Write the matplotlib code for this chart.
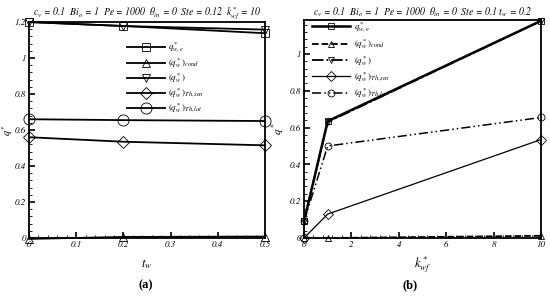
import numpy as np
import matplotlib
matplotlib.use('Agg')
import matplotlib.pyplot as plt
from matplotlib.ticker import MultipleLocator

plt.rcParams['font.family'] = ['STIXGeneral', 'DejaVu Serif']
plt.rcParams['mathtext.fontset'] = 'stix'

# panel (a): q* vs t_w
t_w = [0.0, 0.2, 0.5]
a_qwe = [1.20, 1.178, 1.138]
a_cond = [-0.005, 0.006, 0.008]
a_qw = [1.20, 1.178, 1.158]
a_sen = [0.56, 0.535, 0.515]
a_lat = [0.66, 0.655, 0.65]

# panel (b): q* vs k*_wf
k_wf = [0.0, 1.0, 10.0]
b_qwe = [0.09, 0.635, 1.18]
b_cond = [0.0, 0.0, 0.012]
b_qw = [0.09, 0.63, 1.18]
b_sen = [0.0, 0.13, 0.535]
b_lat = [0.09, 0.50, 0.655]

labels = [r'$q^*_{w,e}$', r'$(q^*_w)_{cond}$', r'$(q^*_w)$',
          r'$(q^*_w)_{Th,sen}$', r'$(q^*_w)_{Th,lat}$']
markers = ['s', '^', 'v', 'D', 'o']

fig = plt.figure(figsize=(5.5, 2.98), dpi=100)
ax1 = fig.add_axes([0.0527, 0.2013, 0.4291, 0.7247])
ax2 = fig.add_axes([0.5527, 0.2013, 0.4309, 0.7317])

def style_axis(ax):
    for s in ax.spines.values():
        s.set_linewidth(1.3)
    ax.tick_params(which='both', direction='in', top=False, right=False, labelsize=6.5, pad=2)
    ax.tick_params(which='major', length=4, width=1.2)
    ax.tick_params(which='minor', length=2, width=0.6)
    for lab in ax.get_xticklabels() + ax.get_yticklabels():
        lab.set_fontstyle('italic')

ms = [6, 6, 6, 6, 8]
ys = [a_qwe, a_cond, a_qw, a_sen, a_lat]
for y, m, lab, s in zip(ys, markers, labels, ms):
    ax1.plot(t_w, y, color='black', lw=1.3, marker=m, ms=s, mfc='none', mew=0.6,
             label=lab, clip_on=False)
ax1.set_xlim(0, 0.5)
ax1.set_ylim(0, 1.2)
ax1.set_xticks([0, 0.1, 0.2, 0.3, 0.4, 0.5])
ax1.set_xticklabels(['0', '0.1', '0.2', '0.3', '0.4', '0.5'])
ax1.xaxis.set_minor_locator(MultipleLocator(0.02))
ax1.set_yticks([0, 0.2, 0.4, 0.6, 0.8, 1.0, 1.2])
ax1.set_yticklabels(['0', '0.2', '0.4', '0.6', '0.8', '1', '1.2'])
ax1.yaxis.set_minor_locator(MultipleLocator(0.04))
style_axis(ax1)
ax1.set_xlabel(r'$t_w$', fontsize=9)
ax1.xaxis.set_label_coords(0.5, -0.09)
ax1.set_ylabel(r'$q^*$', fontsize=7.5)
ax1.yaxis.set_label_coords(-0.06, 0.5)
ax1.set_title(r'$c_v$ = 0.1  $Bi_o$ = 1  $Pe$ = 1000  $\theta_{in}$ = 0  $Ste$ = 0.12  $k^*_{wf}$ = 10',
              fontsize=7, style='italic', pad=3)
ax1.legend(loc='upper left', bbox_to_anchor=(0.38, 0.95), frameon=False, fontsize=6.5,
           handlelength=4.2, labelspacing=0.15, handletextpad=0.4)

ys = [b_qwe, b_cond, b_qw, b_sen, b_lat]
lss = ['-', '--', '-.', '-', (0, (6, 2, 1, 2, 1, 2))]
lws = [1.8, 1.3, 1.3, 0.9, 1.1]
for y, m, lab, ls, lw in zip(ys, markers, labels, lss, lws):
    ax2.plot(k_wf, y, color='black', lw=lw, ls=ls, marker=m, ms=5, mfc='none', mew=0.6,
             label=lab, clip_on=False)
ax2.set_xlim(0, 10)
ax2.set_ylim(0, 1.185)
ax2.set_xticks([0, 2, 4, 6, 8, 10])
ax2.set_xticklabels(['0', '2', '4', '6', '8', '10'])
ax2.xaxis.set_minor_locator(MultipleLocator(0.4))
ax2.set_yticks([0, 0.2, 0.4, 0.6, 0.8, 1.0])
ax2.set_yticklabels(['0', '0.2', '0.4', '0.6', '0.8', '1'])
ax2.yaxis.set_minor_locator(MultipleLocator(0.04))
style_axis(ax2)
ax2.set_xlabel(r'$k^*_{wf}$', fontsize=9)
ax2.xaxis.set_label_coords(0.5, -0.075)
ax2.set_ylabel(r'$q^*$', fontsize=8)
ax2.yaxis.set_label_coords(-0.07, 0.5)
ax2.set_title(r'$c_v$ = 0.1  $Bi_o$ = 1  $Pe$ = 1000  $\theta_{in}$ = 0  $Ste$ = 0.1 $t_w$ = 0.2',
              fontsize=7, style='italic', pad=3)
ax2.legend(loc='upper left', bbox_to_anchor=(0.0, 1.035), frameon=False, fontsize=6.5,
           handlelength=4.2, labelspacing=0.3, handletextpad=0.4)

fig.text(0.265, 0.044, '(a)', fontsize=9, weight='bold', ha='center', va='center', family='Liberation Serif')
fig.text(0.745, 0.044, '(b)', fontsize=9, weight='bold', ha='center', va='center', family='Liberation Serif')

fig.savefig('out.png', dpi=100)
